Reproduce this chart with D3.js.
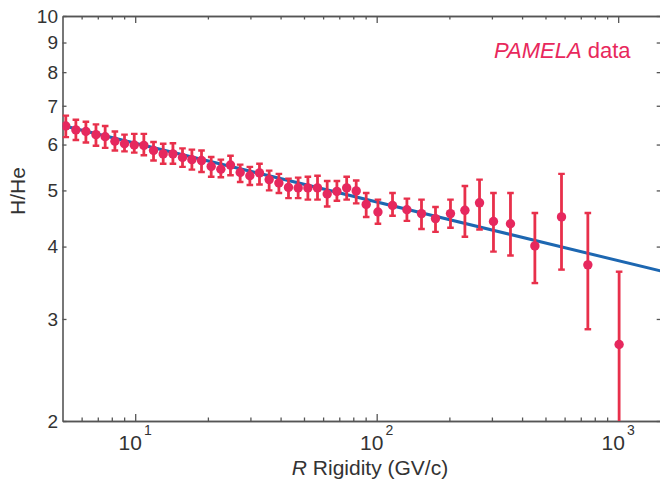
<!DOCTYPE html>
<html>
<head>
<meta charset="utf-8">
<script src="https://cdn.jsdelivr.net/npm/d3@7"></script>
<style>
  body { margin: 0; background: #fff; }
  text { font-family: "Liberation Sans", Arial, Helvetica, sans-serif; fill: #333; }
</style>
</head>
<body>
<div id="chart"></div>
<script>
// PAMELA H/He ratio vs rigidity
const rigidity = [5.16, 5.68, 6.25, 6.88, 7.51, 8.24, 9.03, 9.91, 10.86, 11.91,
  13.06, 14.33, 15.70, 17.17, 18.82, 20.64, 22.63, 24.81, 27.21, 29.84,
  32.71, 35.87, 39.36, 43.13, 47.30, 51.89, 56.88, 62.37, 68.43, 75.11,
  82.26, 90.48, 101.2, 116.3, 133.4, 153.3, 175.2, 202.1, 231.9, 266.6,
  304.5, 358.1, 451.9, 582.5, 748.9, 1009];
const ratio = [6.46, 6.36, 6.32, 6.24, 6.19, 6.08, 6.02, 5.99, 5.98, 5.86,
  5.78, 5.78, 5.70, 5.65, 5.63, 5.50, 5.44, 5.53, 5.37, 5.30,
  5.36, 5.22, 5.15, 5.06, 5.05, 5.05, 5.05, 4.93, 4.98, 5.05,
  4.99, 4.73, 4.59, 4.71, 4.63, 4.56, 4.47, 4.56, 4.62, 4.76,
  4.42, 4.38, 4.01, 4.50, 3.72, 2.71];
const ratioHi = [6.73, 6.62, 6.57, 6.50, 6.46, 6.32, 6.24, 6.26, 6.26, 6.06,
  6.02, 6.03, 5.91, 5.88, 5.86, 5.71, 5.65, 5.74, 5.54, 5.49,
  5.56, 5.41, 5.34, 5.24, 5.26, 5.28, 5.30, 5.19, 5.19, 5.28,
  5.20, 4.95, 4.82, 4.95, 4.84, 4.82, 4.68, 4.82, 5.09, 5.22,
  4.95, 4.95, 4.57, 5.34, 4.57, 3.62];
const ratioLo = [6.18, 6.11, 6.05, 5.97, 5.92, 5.86, 5.84, 5.81, 5.75, 5.63,
  5.56, 5.56, 5.49, 5.43, 5.38, 5.28, 5.27, 5.31, 5.17, 5.11,
  5.12, 5.00, 4.95, 4.85, 4.85, 4.82, 4.82, 4.69, 4.80, 4.82,
  4.75, 4.50, 4.38, 4.52, 4.43, 4.29, 4.24, 4.31, 4.16, 4.28,
  3.92, 3.86, 3.46, 3.65, 2.88, 1.80];

// power-law fit, straight on log-log: end points
const fitR = [5, 1500];
const fitRatio = [6.47, 3.63];

const xMajor = [10, 100, 1000];
const xMajorExp = ["1", "2", "3"];
const xMinor = [6, 7, 8, 9, 20, 30, 40, 50, 60, 70, 80, 90,
  200, 300, 400, 500, 600, 700, 800, 900];
const yTicks = [2, 3, 4, 5, 6, 7, 8, 9, 10];

var w = 660, h = 482;
var mLeft = 62.5, mRight = 660.7, mTop = 16, mBottom = 421;

var svg = d3.select("#chart").append("svg")
  .attr("width", w)
  .attr("height", h);

var x = d3.scaleLog().domain([5, 1500]).range([mLeft, mRight]);
var y = d3.scaleLog().domain([2, 10]).range([mBottom, mTop]);

var axisColor = "#555";

// clip for the data marks
svg.append("clipPath").attr("id", "clip")
  .append("rect")
  .attr("x", mLeft).attr("y", mTop)
  .attr("width", mRight - mLeft).attr("height", mBottom - mTop);

// axes with inward ticks
function styleAxis(g) {
  g.select(".domain").attr("stroke", axisColor).attr("stroke-width", 1.6);
  g.selectAll(".tick line").attr("stroke", axisColor).attr("stroke-width", 1.3);
  g.selectAll(".tick text").remove();
}

svg.append("g")
  .attr("transform", "translate(0," + mBottom + ")")
  .call(d3.axisBottom(x).tickValues(xMinor).tickSize(-3.5).tickSizeOuter(0))
  .call(styleAxis);
svg.append("g")
  .attr("transform", "translate(0," + mBottom + ")")
  .call(d3.axisBottom(x).tickValues(xMajor).tickSize(-7).tickSizeOuter(0))
  .call(styleAxis);
svg.append("g")
  .attr("transform", "translate(0," + mTop + ")")
  .call(d3.axisTop(x).tickValues(xMinor).tickSize(-3.5).tickSizeOuter(0))
  .call(styleAxis);
svg.append("g")
  .attr("transform", "translate(0," + mTop + ")")
  .call(d3.axisTop(x).tickValues(xMajor).tickSize(-7).tickSizeOuter(0))
  .call(styleAxis);
svg.append("g")
  .attr("transform", "translate(" + mLeft + ",0)")
  .call(d3.axisLeft(y).tickValues(yTicks).tickSize(-4).tickSizeOuter(0))
  .call(styleAxis);
svg.append("g")
  .attr("transform", "translate(" + mRight + ",0)")
  .call(d3.axisRight(y).tickValues(yTicks).tickSize(-4).tickSizeOuter(0))
  .call(styleAxis);

// y tick labels
svg.append("g").selectAll("text")
  .data(yTicks)
  .enter().append("text")
  .attr("x", 58)
  .attr("y", d => y(d))
  .attr("dy", "0.36em")
  .attr("text-anchor", "end")
  .attr("font-size", 19)
  .text(d => d);

// x tick labels 10^n
var xl = svg.append("g").selectAll("text")
  .data(xMajor)
  .enter().append("text")
  .attr("x", d => x(d))
  .attr("y", 450)
  .attr("text-anchor", "middle")
  .attr("font-size", 21);
xl.append("tspan").text("10");
xl.append("tspan")
  .attr("dx", 2).attr("dy", -15)
  .attr("font-size", 14)
  .text((d, i) => xMajorExp[i]);

// axis titles
svg.append("text")
  .attr("transform", "translate(25,191) rotate(-90)")
  .attr("text-anchor", "middle")
  .attr("font-size", 21)
  .text("H/He");

var xt = svg.append("text")
  .attr("x", 370)
  .attr("y", 475)
  .attr("text-anchor", "middle")
  .attr("font-size", 21);
xt.append("tspan").attr("font-style", "italic").text("R");
xt.append("tspan").text(" Rigidity (GV/c)");

// legend text
var lg = svg.append("text")
  .attr("x", 494)
  .attr("y", 58)
  .attr("font-size", 22)
  .style("fill", "#e8285c");
lg.append("tspan").attr("font-style", "italic").style("fill", "#e8285c").text("PAMELA");
lg.append("tspan").style("fill", "#e8285c").text(" data");

// data layer
var plot = svg.append("g").attr("clip-path", "url(#clip)");

var line = d3.line()
  .x((d, i) => x(fitR[i]))
  .y(d => y(d));
plot.append("path")
  .datum(fitRatio)
  .attr("d", line)
  .attr("fill", "none")
  .attr("stroke", "#1d67b1")
  .attr("stroke-width", 3);

var idx = d3.range(rigidity.length);
var errColor = "#e8304b";
var cap = 3.3;

plot.selectAll(".err")
  .data(idx)
  .enter().append("line")
  .attr("class", "err")
  .attr("x1", i => x(rigidity[i])).attr("x2", i => x(rigidity[i]))
  .attr("y1", i => y(ratioHi[i])).attr("y2", i => y(ratioLo[i]))
  .attr("stroke", errColor)
  .attr("stroke-width", 2.8);

plot.selectAll(".capHi")
  .data(idx)
  .enter().append("line")
  .attr("class", "capHi")
  .attr("x1", i => x(rigidity[i]) - cap).attr("x2", i => x(rigidity[i]) + cap)
  .attr("y1", i => y(ratioHi[i])).attr("y2", i => y(ratioHi[i]))
  .attr("stroke", errColor)
  .attr("stroke-width", 2.4);

plot.selectAll(".capLo")
  .data(idx)
  .enter().append("line")
  .attr("class", "capLo")
  .attr("x1", i => x(rigidity[i]) - cap).attr("x2", i => x(rigidity[i]) + cap)
  .attr("y1", i => y(ratioLo[i])).attr("y2", i => y(ratioLo[i]))
  .attr("stroke", errColor)
  .attr("stroke-width", 2.4);

plot.selectAll("circle")
  .data(idx)
  .enter().append("circle")
  .attr("cx", i => x(rigidity[i]))
  .attr("cy", i => y(ratio[i]))
  .attr("r", 4.7)
  .attr("fill", "#e6285e");
</script>
</body>
</html>
